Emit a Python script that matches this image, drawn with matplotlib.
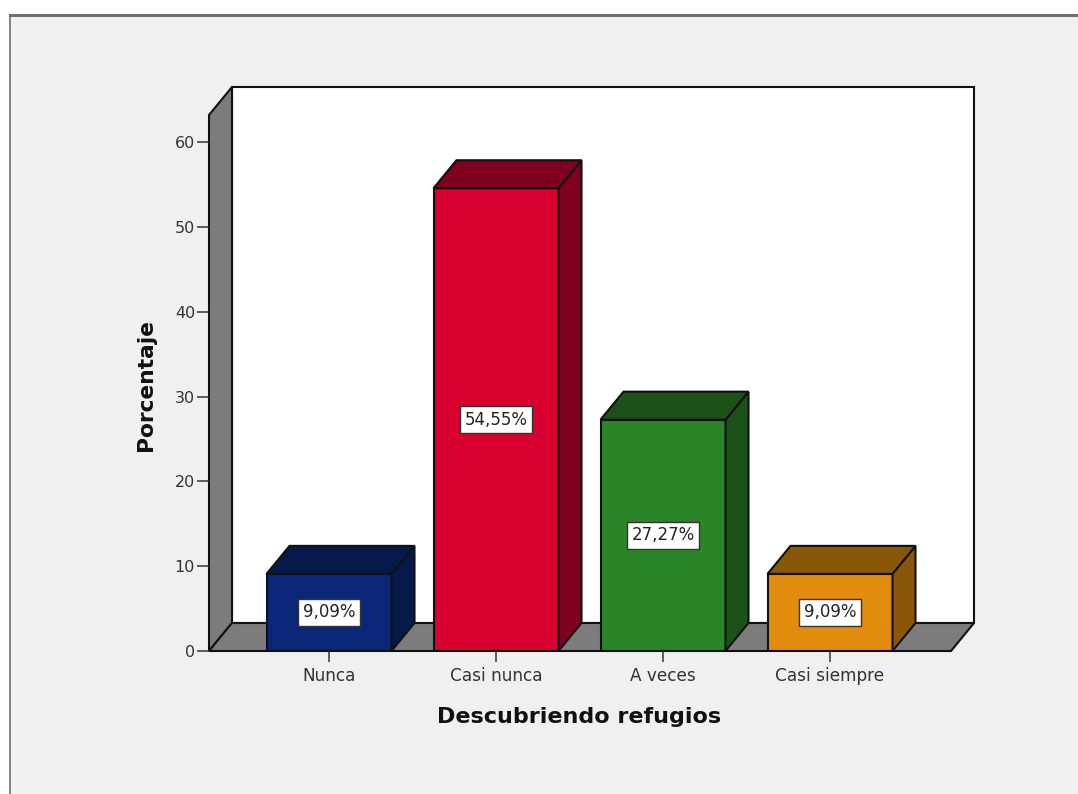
import matplotlib
matplotlib.use("Agg")
import matplotlib.pyplot as plt
from matplotlib.patches import Polygon, Rectangle

categories = ["Nunca", "Casi nunca", "A veces", "Casi siempre"]
values = [9.09, 54.55, 27.27, 9.09]
labels = ["9,09%", "54,55%", "27,27%", "9,09%"]
front = ["#0a2678", "#d8002e", "#2a8529", "#e28c0e"]
side = ["#051a4a", "#800020", "#1a5219", "#8a5709"]
yticks = [0, 10, 20, 30, 40, 50, 60]

W, H = 1078, 794
plt.rcParams["font.family"] = ["DejaVu Sans"]
fig = plt.figure(figsize=(W/100, H/100), dpi=100, facecolor="white")

# grey panel with its frame
fig.add_artist(Rectangle((10/W, 0), 1, 1 - 15/H, transform=fig.transFigure, fc="#f0f0f0", ec="none", zorder=-5))
fig.add_artist(plt.Line2D([10/W, 10/W], [0, 1 - 15/H], transform=fig.transFigure, color="#707070", lw=1.2))
fig.add_artist(plt.Line2D([10/W, 1], [1 - 15/H, 1 - 15/H], transform=fig.transFigure, color="#707070", lw=2.2))

left, right, y0px = 209, 951, 651
ppu = (651 - 142) / 60
ymax = (651 - 115) / ppu
ax = fig.add_axes([left/W, 1 - y0px/H, (right-left)/W, (y0px-115)/H])
ax.set_xlim(0, right-left)
ax.set_ylim(0, ymax)
ax.patch.set_alpha(0)
for s in ax.spines.values():
    s.set_visible(False)
dx = 23
dy = 28 / ppu
k = "#111111"
lw = 1.5
ax.add_patch(Polygon([(dx, dy), (right-left+dx, dy), (right-left+dx, ymax+dy), (dx, ymax+dy)], closed=True, fc="white", ec=k, lw=lw, clip_on=False))
ax.add_patch(Polygon([(0, 0), (dx, dy), (dx, ymax+dy), (0, ymax)], closed=True, fc="#7c7c7c", ec=k, lw=lw, clip_on=False))
ax.add_patch(Polygon([(0, 0), (right-left, 0), (right-left+dx, dy), (dx, dy)], closed=True, fc="#7c7c7c", ec=k, lw=lw, clip_on=False))

centers = [120, 287, 454, 621]
bw = 125
for c, v, f, sd, lab in zip(centers, values, front, side, labels):
    x0, x1 = c - bw/2, c + bw/2
    ax.add_patch(Rectangle((x0, 0), bw, v, fc=f, ec=k, lw=lw, zorder=3))
    ax.add_patch(Polygon([(x1, 0), (x1+dx, dy), (x1+dx, v+dy), (x1, v)], closed=True, fc=sd, ec=k, lw=lw, zorder=3, clip_on=False))
    ax.add_patch(Polygon([(x0, v), (x1, v), (x1+dx, v+dy), (x0+dx, v+dy)], closed=True, fc=sd, ec=k, lw=lw, zorder=3, clip_on=False))
    ax.text(c, v/2, lab, ha="center", va="center", fontsize=12, color="#222222", zorder=5,
            bbox=dict(boxstyle="square,pad=0.28", fc="white", ec="#333333", lw=1.0))

ax.set_yticks(yticks)
ax.set_xticks(centers)
ax.set_xticklabels(categories)
ax.tick_params(axis="y", length=8.5, width=1.1, labelsize=11.5, pad=1.5, color="#333333", labelcolor="#333333")
ax.tick_params(axis="x", length=8, width=1.1, labelsize=12.2, pad=3.3, color="#333333", labelcolor="#333333")
ax.set_xlabel("Descubriendo refugios", fontsize=16, fontweight="bold", labelpad=16.2, color="#111111", x=0.499)
ax.set_ylabel("Porcentaje", fontsize=15.7, fontweight="bold", labelpad=13.5, color="#111111", y=0.497)

fig.savefig("out.png", dpi=100, facecolor=fig.get_facecolor())
